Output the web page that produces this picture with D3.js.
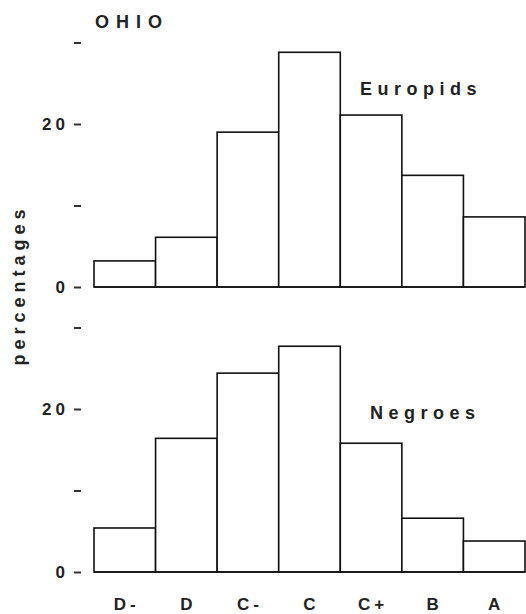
<!DOCTYPE html>
<html>
<head>
<meta charset="utf-8">
<script src="https://cdn.jsdelivr.net/npm/d3@7"></script>
<style>
  html, body { margin: 0; padding: 0; background: #fff; }
  svg { display: block; }
  text { font-family: "Liberation Sans", Arial, sans-serif; font-weight: bold; fill: #222; }
</style>
</head>
<body>
<svg id="chart" width="526" height="614"></svg>
<script>
const categories = ["D-", "D", "C-", "C", "C+", "B", "A"];
const europidValues = [3.2, 6.1, 19.0, 28.8, 21.1, 13.7, 8.6];
const negroValues = [5.4, 16.4, 24.4, 27.7, 15.8, 6.6, 3.8];
const yTicks = [0, 10, 20, 30];
const yTickLabels = {0: "0", 20: "20"};
const panelTitles = ["Europids", "Negroes"];

const svg = d3.select("#chart");
const x = d3.scaleBand().domain(categories).range([94, 525]).padding(0);

const pxPerUnit = 8.15;
const panels = [
  { values: europidValues, base: 287, title: panelTitles[0], tx: 360, ty: 95 },
  { values: negroValues, base: 572, title: panelTitles[1], tx: 370, ty: 419 }
];

panels.forEach(p => {
  const y = d3.scaleLinear().domain([0, 30]).range([p.base, p.base - 30 * pxPerUnit]);
  const g = svg.append("g");

  const axis = d3.axisLeft(y).tickValues(yTicks).tickSize(7).tickPadding(9)
    .tickFormat(d => yTickLabels[d] || "");
  const ag = g.append("g").attr("transform", "translate(81,0)").call(axis);
  ag.select(".domain").remove();
  ag.selectAll(".tick line").attr("stroke", "#333").attr("stroke-width", 2);
  ag.selectAll(".tick text").attr("font-size", 17).attr("letter-spacing", 4)
    .attr("font-family", "'Liberation Sans', Arial, sans-serif").attr("font-weight", "bold")
    .attr("fill", "#222").attr("dx", 4);

  g.selectAll("rect.bar").data(p.values).enter().append("rect")
    .attr("class", "bar")
    .attr("x", (d, i) => x(categories[i]))
    .attr("width", x.bandwidth())
    .attr("y", d => y(d))
    .attr("height", d => y(0) - y(d))
    .attr("fill", "#fff")
    .attr("stroke", "#111")
    .attr("stroke-width", 1.6);

  g.append("line")
    .attr("x1", x.range()[0]).attr("x2", x.range()[1])
    .attr("y1", y(0)).attr("y2", y(0))
    .attr("stroke", "#111").attr("stroke-width", 1.6);

  g.append("text").attr("x", p.tx).attr("y", p.ty)
    .attr("font-size", 18).attr("letter-spacing", 5.5).text(p.title);
});

svg.append("text").attr("x", 95).attr("y", 28)
  .attr("font-size", 18).attr("letter-spacing", 7).text("OHIO");

svg.append("text")
  .attr("transform", "translate(25,285) rotate(-90)")
  .attr("text-anchor", "middle")
  .attr("font-size", 18).attr("font-weight", "normal").attr("letter-spacing", 5)
  .text("percentages");

svg.append("g").selectAll("text").data(categories).enter().append("text")
  .attr("x", d => x(d) + x.bandwidth() / 2 + 2)
  .attr("y", 610)
  .attr("text-anchor", "middle")
  .attr("font-size", 17)
  .attr("letter-spacing", 4)
  .text(d => d);
</script>
</body>
</html>
